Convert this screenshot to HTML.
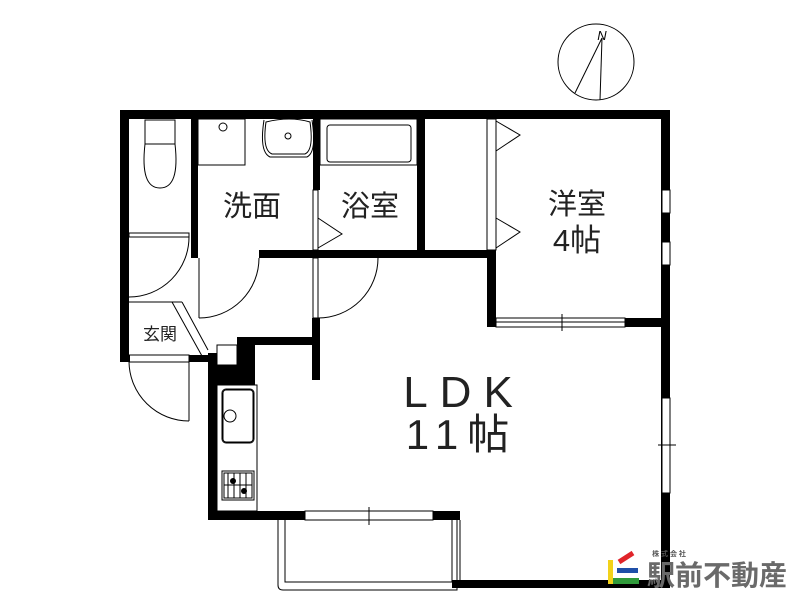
<!DOCTYPE html>
<html><head><meta charset="utf-8"><style>
html,body{margin:0;padding:0;background:#fff;width:800px;height:600px;overflow:hidden}
svg{display:block}
text{font-family:"Liberation Sans","Noto Sans CJK JP",sans-serif}
</style></head><body>
<svg width="800" height="600" viewBox="0 0 800 600" xmlns="http://www.w3.org/2000/svg">
<g fill="#000">
<rect x="120" y="110" width="550" height="9"/>
<rect x="120" y="110" width="9" height="252"/>
<rect x="120" y="355" width="10" height="7"/>
<rect x="189" y="355" width="21" height="7"/>
<rect x="191" y="119" width="7" height="139"/>
<rect x="191" y="250" width="7" height="8"/>
<rect x="259" y="250" width="231" height="8"/>
<rect x="313" y="119" width="7" height="71"/>
<rect x="417" y="119" width="8" height="139"/>
<rect x="312" y="318" width="8" height="62"/>
<rect x="237" y="337" width="83" height="8"/>
<rect x="237" y="337" width="18" height="48"/>
<rect x="208" y="365" width="47" height="20"/>
<rect x="208" y="353" width="9" height="167"/>
<rect x="208" y="511" width="97" height="9"/>
<rect x="433" y="511" width="27" height="9"/>
<rect x="487" y="250" width="9" height="77"/>
<rect x="487" y="318" width="9" height="9"/>
<rect x="625" y="318" width="45" height="9"/>
<rect x="661" y="110" width="9" height="478"/>
<rect x="452" y="580" width="218" height="8"/>
</g>
<g fill="#fff" stroke="#000" stroke-width="1">
<rect x="662" y="190" width="8" height="23"/>
<rect x="662" y="242" width="8" height="23"/>
<rect x="662" y="398" width="8" height="95"/>
<line x1="658" y1="445" x2="676" y2="445"/>
<rect x="496" y="318" width="129" height="9"/>
<line x1="496" y1="322" x2="625" y2="322"/>
<line x1="562" y1="314" x2="562" y2="331"/>
<rect x="305" y="511" width="128" height="9"/>
<line x1="369" y1="507" x2="369" y2="525"/>
<rect x="217" y="345" width="20" height="20"/>
</g>
<g fill="none" stroke="#000" stroke-width="1">
<rect x="145" y="120" width="30" height="24"/>
<path d="M145 144 Q140 188 160 188 Q180 188 175 144"/>
<rect x="129" y="233" width="60" height="4"/>
<path d="M189 237 A60 60 0 0 1 129 297"/>
<line x1="199" y1="258" x2="199" y2="318"/>
<path d="M259 258 A60 60 0 0 1 199 318"/>
<rect x="313" y="258" width="5" height="60"/>
<path d="M378 258 A60 60 0 0 1 318 318"/>
<rect x="129" y="355" width="60" height="7"/>
<line x1="189" y1="362" x2="189" y2="421"/>
<path d="M129 362 A60 60 0 0 0 189 421"/>
<line x1="129" y1="302" x2="182" y2="302"/>
<line x1="182" y1="302" x2="208" y2="350"/>
<line x1="172" y1="302" x2="202" y2="356"/>
<rect x="198" y="119" width="47" height="46"/>
<circle cx="223" cy="127" r="4"/>
<path d="M266 122 Q262 150 272 154 L305 154 Q314 150 310 122 Q290 116 266 122Z"/>
<path d="M264 120 Q259 152 270 157 L307 157 Q317 152 312 120"/>
<circle cx="288" cy="136" r="3"/>
<rect x="313" y="190" width="5" height="60"/>
<path d="M318 218 L342 234 L318 248"/>
<rect x="320" y="119" width="97" height="46"/>
<rect x="327" y="125" width="84" height="37" rx="3"/>
<rect x="487" y="119" width="9" height="131"/>
<path d="M496 121 L520 135 L496 151"/>
<path d="M496 218 L520 232 L496 248"/>
<rect x="217" y="385" width="40" height="126"/>
<rect x="222" y="389" width="32" height="54" rx="4"/>
<rect x="223" y="390" width="30" height="52" rx="3"/>
<circle cx="230" cy="416" r="6"/>
<rect x="222" y="471" width="32" height="29"/>
<rect x="224" y="473" width="28" height="25"/>
<path d="M228 473 V498 M234 473 V498 M240 473 V498 M246 473 V498 M224 485 H252"/>
<path d="M278 520 V585 Q278 590 283 590 H457 V520"/>
<path d="M285 520 V582 H457"/>
<path d="M452 520 V582 M460 520 V588"/>
<circle cx="596" cy="62" r="38"/>
<line x1="602" y1="38" x2="575" y2="93"/>
<line x1="602" y1="38" x2="600" y2="100"/>
</g>
<g fill="#000">
<circle cx="233" cy="481" r="3"/><circle cx="244" cy="491" r="3"/>
</g>
<text x="602" y="40" font-size="13" font-style="italic" font-family="Liberation Serif,serif" text-anchor="middle">N</text>
<text x="252" y="216" font-size="29" text-anchor="middle" fill="#222">洗面</text>
<text x="370" y="216" font-size="29" text-anchor="middle" fill="#222">浴室</text>
<text x="577" y="214" font-size="29" text-anchor="middle" fill="#222">洋室</text>
<text x="577" y="251" font-size="31" text-anchor="middle" fill="#222">4帖</text>
<text x="160" y="340" font-size="17" text-anchor="middle" fill="#222">玄関</text>
<text x="464" y="407" font-size="44" text-anchor="middle" fill="#222" letter-spacing="12">LDK</text>
<text x="462" y="449" font-size="42" text-anchor="middle" fill="#222" letter-spacing="9">11帖</text>
<rect x="608" y="560" width="5" height="24" fill="#f2d21a"/>
<line x1="619" y1="562" x2="633" y2="553" stroke="#e0242a" stroke-width="5"/>
<rect x="617" y="568" width="21" height="5" fill="#1f4fa8"/>
<rect x="613" y="578" width="26" height="6" fill="#2f9a3a"/>
<text x="669" y="556" font-size="7" font-weight="bold" fill="#555" text-anchor="middle">株 式 会 社</text>
<text x="647" y="585" font-size="28" font-weight="bold" fill="#6a6a6a">駅前不動産</text>
</svg>
</body></html>
